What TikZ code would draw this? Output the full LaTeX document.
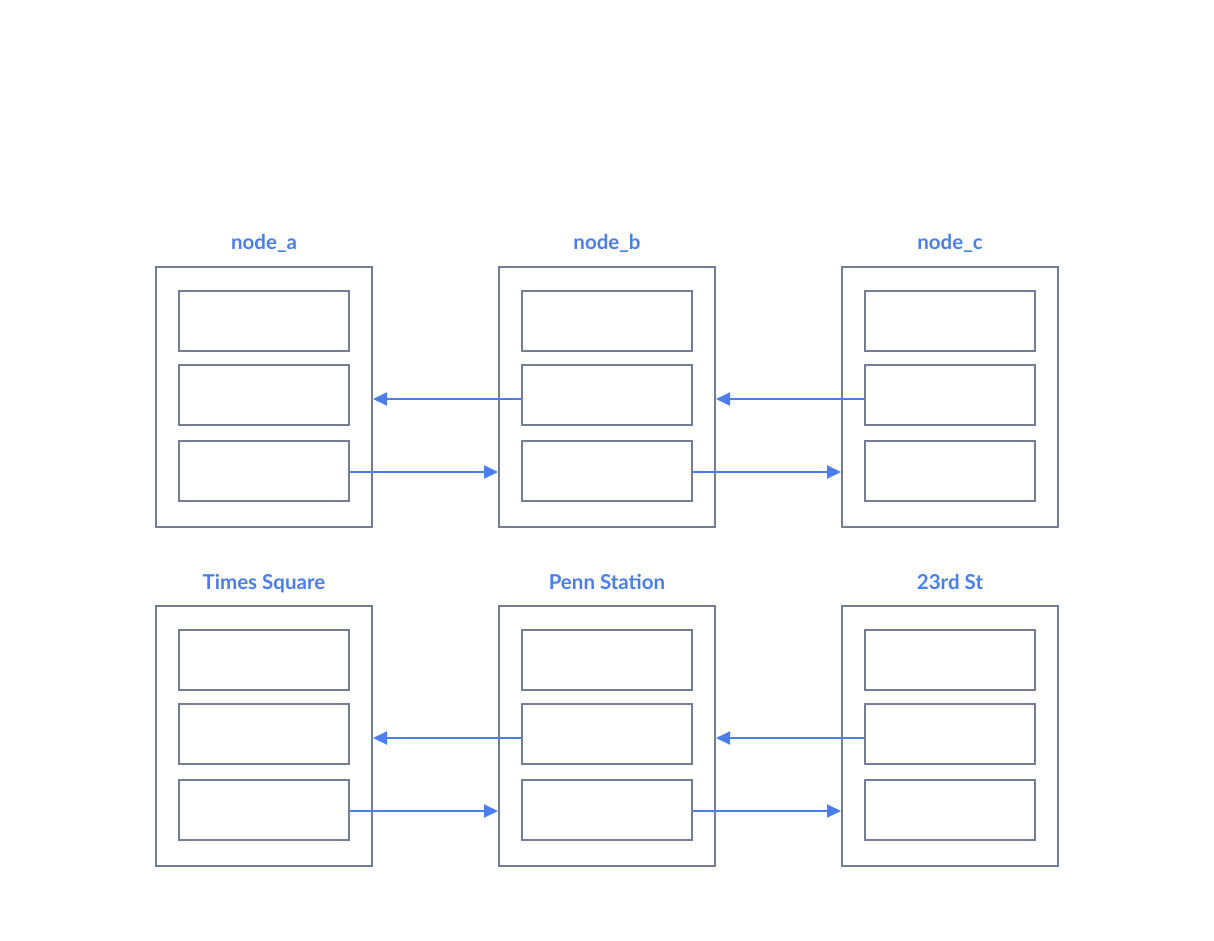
\documentclass[tikz,border=0pt]{standalone}
\usepackage{fontspec}
\setmainfont{Lato}
\usetikzlibrary{arrows.meta}
\definecolor{boxc}{HTML}{757D96}
\definecolor{arrc}{HTML}{4A7FEB}
\tikzset{
  outerbox/.style={draw=boxc, line width=2pt, minimum width=216pt, minimum height=260pt, inner sep=0pt},
  innerbox/.style={draw=boxc, line width=2pt, minimum width=170pt, minimum height=60pt, inner sep=0pt},
  lbl/.style={text=arrc, anchor=base, inner sep=0pt, font=\bfseries\fontsize{20.5pt}{22pt}\selectfont},
  conn/.style={draw=arrc, line width=2pt, -{Triangle[length=14pt,width=13pt]}}
}
\begin{document}
\begin{tikzpicture}[x=1pt,y=-1pt]
\useasboundingbox (0,0) rectangle (1214,941);
\foreach \r/\yo/\la/\lb/\lc in {0/0/node\_a/node\_b/node\_c, 1/339/Times Square/Penn Station/23rd St}{
  \foreach \c/\xo/\lab in {a/0/\la, b/343/\lb, c/686/\lc}{
    \node[outerbox] (o\c\r) at (264+\xo, 397+\yo) {};
    \node[innerbox] (i\c\r1) at (264+\xo, 321+\yo) {};
    \node[innerbox] (i\c\r2) at (264+\xo, 395+\yo) {};
    \node[innerbox] (i\c\r3) at (264+\xo, 471+\yo) {};
    \node[lbl] (l\c\r) at (264+\xo, 250+\yo) {\lab};
  }
  \draw[conn] (ib\r2.west |- 0,399+\yo) -- (oa\r.east |- 0,399+\yo);
  \draw[conn] (ic\r2.west |- 0,399+\yo) -- (ob\r.east |- 0,399+\yo);
  \draw[conn] (ia\r3.east |- 0,472+\yo) -- (ob\r.west |- 0,472+\yo);
  \draw[conn] (ib\r3.east |- 0,472+\yo) -- (oc\r.west |- 0,472+\yo);
}
\end{tikzpicture}
\end{document}
